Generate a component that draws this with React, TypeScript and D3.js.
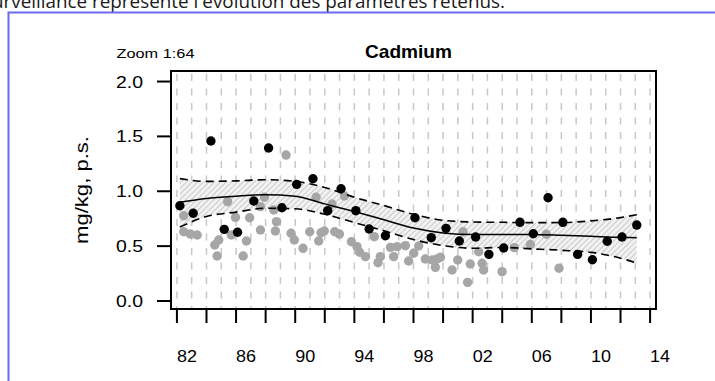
import * as React from "react";
import * as d3 from "d3";

// black: the station itself, gray: the other stations
const blackYears = [1982.2, 1983.1, 1984.3, 1985.2, 1986.1, 1987.2, 1988.2, 1989.1, 1990.1, 1991.2, 1992.2, 1993.1, 1994.1, 1995.0, 1996.1, 1998.1, 1999.2, 2000.2, 2001.1, 2002.2, 2003.1, 2004.1, 2005.2, 2006.1, 2007.1, 2008.1, 2009.1, 2010.1, 2011.1, 2012.1, 2013.1];
const blackValues = [0.868, 0.8, 1.458, 0.653, 0.626, 0.911, 1.394, 0.85, 1.063, 1.114, 0.823, 1.023, 0.823, 0.656, 0.595, 0.759, 0.577, 0.662, 0.547, 0.583, 0.425, 0.483, 0.717, 0.613, 0.941, 0.717, 0.425, 0.376, 0.544, 0.583, 0.692];

const grayYears = [1982.46, 1982.46, 1982.91, 1983.37, 1984.56, 1984.83, 1984.72, 1985.43, 1985.68, 1985.96, 1986.48, 1986.7, 1986.92, 1987.65, 1987.92, 1987.65, 1988.55, 1988.73, 1988.66, 1989.38, 1989.72, 1989.94, 1990.53, 1990.98, 1991.41, 1991.59, 1991.75, 1991.97, 1992.49, 1992.67, 1992.99, 1993.33, 1993.8, 1994.18, 1994.36, 1994.75, 1995.35, 1995.6, 1995.76, 1996.44, 1996.89, 1997.45, 1996.66, 1997.67, 1998.01, 1998.35, 1998.8, 1999.26, 1999.59, 1999.82, 1999.48, 2000.61, 2000.99, 2001.35, 2001.66, 2001.84, 2002.41, 2002.64, 2002.74, 2003.99, 2004.82, 2005.9, 2006.98, 2007.84];
const grayValues = [0.777, 0.631, 0.61, 0.601, 0.51, 0.556, 0.41, 0.905, 0.601, 0.762, 0.41, 0.547, 0.759, 0.86, 0.945, 0.647, 0.829, 0.723, 0.638, 1.33, 0.617, 0.556, 0.48, 0.631, 0.945, 0.547, 0.622, 0.638, 0.884, 0.631, 0.61, 0.957, 0.54, 0.495, 0.444, 0.404, 0.586, 0.349, 0.404, 0.489, 0.495, 0.504, 0.404, 0.364, 0.435, 0.501, 0.383, 0.374, 0.383, 0.398, 0.307, 0.282, 0.374, 0.631, 0.17, 0.337, 0.449, 0.344, 0.282, 0.267, 0.486, 0.516, 0.608, 0.298];

// smoothed trend with its band
const fitYears = [1982.2, 1984, 1986, 1988, 1990, 1992, 1994, 1996, 1998, 2000, 2002, 2004, 2006, 2008, 2010, 2012, 2013.1];
const fitValues = [0.9, 0.935, 0.955, 0.968, 0.955, 0.885, 0.815, 0.74, 0.665, 0.62, 0.605, 0.607, 0.607, 0.6, 0.59, 0.58, 0.577];
const upperValues = [1.115, 1.09, 1.095, 1.105, 1.09, 1.035, 0.945, 0.87, 0.79, 0.735, 0.72, 0.717, 0.714, 0.715, 0.73, 0.76, 0.787];
const lowerValues = [0.675, 0.77, 0.81, 0.845, 0.84, 0.79, 0.715, 0.64, 0.56, 0.505, 0.48, 0.488, 0.475, 0.462, 0.443, 0.39, 0.345];

const yTicks = [0, 0.5, 1, 1.5, 2];
const yTickLabels = ["0.0", "0.5", "1.0", "1.5", "2.0"];
const xTickYears = [1982, 1984, 1986, 1988, 1990, 1992, 1994, 1996, 1998, 2000, 2002, 2004, 2006, 2008, 2010, 2012, 2014];
const xLabelYears = [1982, 1986, 1990, 1994, 1998, 2002, 2006, 2010, 2014];
const xLabels = ["82", "86", "90", "94", "98", "02", "06", "10", "14"];

const W = 715;
const H = 381;
const FONT = "'Liberation Sans', Arial, sans-serif";

export default function App() {
  const x = d3.scaleLinear().domain([1981.6, 2014.4]).range([171, 656]);
  const y = d3.scaleLinear().domain([-0.073, 2.096]).range([309, 71]);
  const [x0, x1] = x.range();
  const [yb, yt] = y.range();

  const band = d3
    .area<number>()
    .x((d, i) => x(fitYears[i]))
    .y0((d, i) => y(lowerValues[i]))
    .y1((d) => y(d))
    .curve(d3.curveMonotoneX);
  const line = d3
    .line<number>()
    .x((d, i) => x(fitYears[i]))
    .y((d) => y(d))
    .curve(d3.curveMonotoneX);

  const grid = d3.range(1982, 2015);

  return (
    <svg width={W} height={H} style={{ position: "absolute", left: 0, top: 0 }}>
      <defs>
        <pattern id="hatch" width="4" height="4" patternUnits="userSpaceOnUse" patternTransform="rotate(45)">
          <rect width="4" height="4" fill="#f2f2f2" />
          <line x1="0" y1="0" x2="0" y2="4" stroke="#c0c0c0" strokeWidth="1.6" />
        </pattern>
        <clipPath id="plot">
          <rect x={x0} y={yt} width={x1 - x0} height={yb - yt} />
        </clipPath>
      </defs>
      <rect width={W} height={H} fill="#fff" />

      {/* document text cut off above */}
      <text x={-17} y={8} fontFamily="'Open Sans', sans-serif" fontSize={18} textLength={522} lengthAdjust="spacingAndGlyphs" fill="#1a1a1a">
        surveillance représente l'évolution des paramètres retenus.
      </text>
      <path d={`M8.5,${H} V12.5 H${W}`} fill="none" stroke="#6b6bef" strokeWidth={2} />

      <g clipPath="url(#plot)">
        {grid.map((g) => (
          <line key={g} x1={x(g)} x2={x(g)} y1={yt + 3} y2={yb} stroke="#c8c8c8" strokeWidth={1.5} strokeDasharray="7,7.5" />
        ))}
        <path d={band(upperValues) ?? ""} fill="url(#hatch)" />
        {grayYears.map((g, i) => (
          <circle key={"g" + i} cx={x(g)} cy={y(grayValues[i])} r={4.7} fill="#a6a6a6" />
        ))}
        <path d={line(fitValues) ?? ""} fill="none" stroke="#000" strokeWidth={1.5} />
        <path d={line(upperValues) ?? ""} fill="none" stroke="#000" strokeWidth={1.6} strokeDasharray="8,5" />
        <path d={line(lowerValues) ?? ""} fill="none" stroke="#000" strokeWidth={1.6} strokeDasharray="8,5" />
        {blackYears.map((b, i) => (
          <circle key={"b" + i} cx={x(b)} cy={y(blackValues[i])} r={4.7} fill="#000" />
        ))}
      </g>

      <rect x={x0} y={yt} width={x1 - x0} height={yb - yt} fill="none" stroke="#000" strokeWidth={2} />

      {yTicks.map((t, i) => (
        <g key={t}>
          <line x1={157} x2={x0} y1={y(t)} y2={y(t)} stroke="#000" strokeWidth={2} />
          <text x={143} y={y(t) + 6} textAnchor="end" fontFamily={FONT} fontSize={16.5} textLength={27} lengthAdjust="spacingAndGlyphs" fill="#000">
            {yTickLabels[i]}
          </text>
        </g>
      ))}
      {xTickYears.map((t) => (
        <line key={t} x1={x(t)} x2={x(t)} y1={yb} y2={yb + 14} stroke="#000" strokeWidth={2} />
      ))}
      {xLabelYears.map((t, i) => (
        <text key={t} x={x(t) + 10} y={362} textAnchor="middle" fontFamily={FONT} fontSize={16.5} textLength={20} lengthAdjust="spacingAndGlyphs" fill="#000">
          {xLabels[i]}
        </text>
      ))}

      <text x={116.5} y={58} fontFamily={FONT} fontSize={13.5} textLength={78} lengthAdjust="spacingAndGlyphs" fill="#000">
        Zoom 1:64
      </text>
      <text x={408.5} y={58} textAnchor="middle" fontFamily={FONT} fontSize={19} fontWeight="bold" textLength={87} lengthAdjust="spacingAndGlyphs" fill="#000">
        Cadmium
      </text>
      <text transform={`translate(88,${(yt + yb) / 2}) rotate(-90)`} textAnchor="middle" fontFamily={FONT} fontSize={18} textLength={108} lengthAdjust="spacingAndGlyphs" fill="#000">
        mg/kg, p.s.
      </text>
    </svg>
  );
}
